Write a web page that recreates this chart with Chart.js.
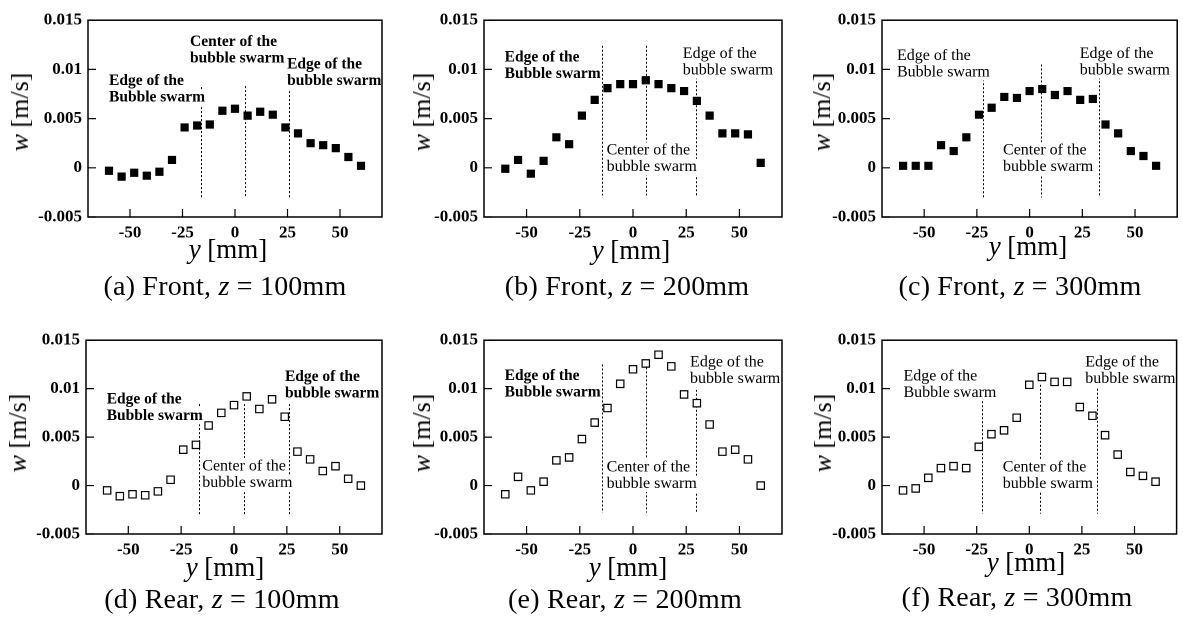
<!DOCTYPE html>
<html>
<head>
<meta charset="utf-8">
<script src="https://cdn.jsdelivr.net/npm/chart.js@4.4.0/dist/chart.umd.min.js"></script>
<style>
  html, body { margin:0; padding:0; background:#fff; }
  body { width:1183px; height:621px; position:relative; overflow:hidden; font-family:"Liberation Serif", "DejaVu Serif", serif; color:#000; }
  canvas { position:absolute; }
  .lbl { position:absolute; white-space:nowrap; transform:translate(-50%,-50%); line-height:1; }
  .ytitle { font-size:26px; transform:translate(-50%,-50%) rotate(-90deg); }
  .xtitle { font-size:27px; }
  .cap { font-size:28px; letter-spacing:0.2px; }
</style>
</head>
<body>
<script>
// ---- data ----
const yPositions = [-60,-54,-48,-42,-36,-30,-24,-18,-12,-6,0,6,12,18,24,30,36,42,48,54,60];
const frontZ100 = [-0.0003,-0.0009,-0.0005,-0.0008,-0.0004,0.0008,0.0041,0.0043,0.0044,0.0058,0.0060,0.0053,0.0057,0.0054,0.0041,0.0035,0.0025,0.0023,0.0020,0.0011,0.0002];
const frontZ200 = [-0.0001,0.0008,-0.0006,0.0007,0.0031,0.0024,0.0053,0.0069,0.0081,0.0085,0.0085,0.0089,0.0085,0.0081,0.0078,0.0068,0.0053,0.0035,0.0035,0.0034,0.0005];
const frontZ300 = [0.0002,0.0002,0.0002,0.0023,0.0017,0.0031,0.0054,0.0061,0.0072,0.0071,0.0078,0.0080,0.0074,0.0078,0.0069,0.0070,0.0044,0.0035,0.0017,0.0012,0.0002];
const rearZ100  = [-0.0005,-0.0011,-0.0009,-0.0010,-0.0006,0.0006,0.0037,0.0042,0.0062,0.0075,0.0083,0.0092,0.0079,0.0089,0.0071,0.0035,0.0027,0.0015,0.0020,0.0007,0.0000];
const rearZ200  = [-0.0009,0.0009,-0.0005,0.0004,0.0026,0.0029,0.0048,0.0065,0.0080,0.0105,0.0120,0.0126,0.0135,0.0123,0.0094,0.0085,0.0063,0.0035,0.0037,0.0027,0.0000];
const rearZ300  = [-0.0005,-0.0003,0.0008,0.0018,0.0020,0.0018,0.0040,0.0053,0.0057,0.0070,0.0104,0.0112,0.0107,0.0107,0.0081,0.0072,0.0052,0.0032,0.0014,0.0010,0.0004];

const xTicks = [-50,-25,0,25,50];
const xTickLabels = ['-50','-25','0','25','50'];
const yTicks = [-0.005,0,0.005,0.01,0.015];
const yTickLabels = ['-0.005','0','0.005','0.01','0.015'];

const captions = ['(a) Front, <i>z</i> = 100mm','(b) Front, <i>z</i> = 200mm','(c) Front, <i>z</i> = 300mm',
                  '(d) Rear, <i>z</i> = 100mm','(e) Rear, <i>z</i> = 200mm','(f) Rear, <i>z</i> = 300mm'];

// ---- panel layout / annotation configuration ----
const panels = [
  { data: frontZ100, filled: true,  area: [88,16,382,217],
    ytitle:[20,112], xtitle:[228,249], cap:[225,286],
    lines: [[-16.3,0.0082,-0.003],[4.6,0.0083,-0.003],[25.6,0.0082,-0.003]],
    texts: [{x:-60,y:0.0088,l:['Edge of the','Bubble swarm'],b:true},
            {x:-21.4,y:0.0128,l:['Center of the','bubble swarm'],b:true},
            {x:24.8,y:0.0105,l:['Edge of the','bubble swarm'],b:true}] },
  { data: frontZ200, filled: true,  area: [484,16,782,217],
    ytitle:[422,112], xtitle:[631,250], cap:[627,286],
    lines: [[-14.7,0.0124,-0.0028],[6.0,0.0124,-0.0028],[29.8,0.0092,-0.0028]],
    texts: [{x:-60.3,y:0.0112,l:['Edge of the','Bubble swarm'],b:true},
            {x:-12.4,y:0.00177,l:['Center of the','bubble swarm'],b:false},
            {x:23.4,y:0.0116,l:['Edge of the','bubble swarm'],b:false}] },
  { data: frontZ300, filled: true,  area: [882,16,1179,217],
    ytitle:[822,112], xtitle:[1028,246], cap:[1020,286],
    lines: [[-22.2,0.0090,-0.003],[5.4,0.0105,-0.003],[32.7,0.0092,-0.003]],
    texts: [{x:-62.9,y:0.0114,l:['Edge of the','Bubble swarm'],b:false},
            {x:-12.6,y:0.0018,l:['Center of the','bubble swarm'],b:false},
            {x:23.8,y:0.0116,l:['Edge of the','bubble swarm'],b:false}] },
  { data: rearZ100, filled: false, area: [86,336,382,534],
    ytitle:[18,433], xtitle:[225,567], cap:[222,599],
    lines: [[-16.4,0.0084,-0.003],[4.6,0.0084,-0.003],[25.9,0.0084,-0.003]],
    texts: [{x:-60.2,y:0.0089,l:['Edge of the','Bubble swarm'],b:true},
            {x:-15.0,y:0.0020,l:['Center of the','bubble swarm'],b:false},
            {x:24.1,y:0.0112,l:['Edge of the','bubble swarm'],b:true}] },
  { data: rearZ200, filled: false, area: [484,336,782,534],
    ytitle:[422,433], xtitle:[628,567], cap:[625,599],
    lines: [[-14.7,0.0125,-0.0028],[6.0,0.0122,-0.0028],[29.8,0.0103,-0.0028]],
    texts: [{x:-60.3,y:0.0113,l:['Edge of the','Bubble swarm'],b:true},
            {x:-12.4,y:0.0019,l:['Center of the','bubble swarm'],b:false},
            {x:26.8,y:0.0127,l:['Edge of the','bubble swarm'],b:false}] },
  { data: rearZ300, filled: false, area: [882,336,1179,534],
    ytitle:[823,433], xtitle:[1026,562], cap:[1017,597],
    lines: [[-22.5,0.0087,-0.0029],[5.2,0.0104,-0.0029],[32.4,0.0104,-0.0029]],
    texts: [{x:-59.8,y:0.0113,l:['Edge of the','Bubble swarm'],b:false},
            {x:-12.6,y:0.0019,l:['Center of the','bubble swarm'],b:false},
            {x:26.6,y:0.0127,l:['Edge of the','bubble swarm'],b:false}] }
];

const FONT = '"Liberation Serif", "DejaVu Serif", serif';
Chart.defaults.font.family = FONT;
Chart.defaults.color = '#000';

const decor = {
  id: 'decor',
  beforeDatasetsDraw(chart, args, opts) {
    const ctx = chart.ctx, xs = chart.scales.x, ys = chart.scales.y;
    ctx.save();
    // dotted marker lines
    ctx.strokeStyle = '#000'; ctx.lineWidth = 1; ctx.setLineDash([2,2]);
    opts.lines.forEach(([x, y1, y2]) => {
      const px = Math.round(xs.getPixelForValue(x)) + 0.5;
      ctx.beginPath();
      ctx.moveTo(px, ys.getPixelForValue(y1));
      ctx.lineTo(px, ys.getPixelForValue(y2));
      ctx.stroke();
    });
    ctx.setLineDash([]);
    // annotation text with white background
    ctx.textBaseline = 'middle'; ctx.textAlign = 'left';
    opts.texts.forEach(t => {
      ctx.font = (t.b ? 'bold 15.5px ' : '16px ') + FONT;
      const x0 = xs.getPixelForValue(t.x), y0 = ys.getPixelForValue(t.y);
      t.l.forEach((line, i) => {
        const w = ctx.measureText(line).width;
        const yy = y0 + i * 16.5;
        ctx.fillStyle = '#fff';
        ctx.fillRect(x0 - 1, yy - 8, w + 2, 16.5);
        ctx.fillStyle = '#000';
        ctx.fillText(line, x0, yy);
      });
    });
    ctx.restore();
  },
  afterDraw(chart) {
    const ctx = chart.ctx, a = chart.chartArea, xs = chart.scales.x, ys = chart.scales.y;
    ctx.save();
    ctx.strokeStyle = '#000'; ctx.lineWidth = 1.5;
    ctx.strokeRect(a.left, a.top, a.right - a.left, a.bottom - a.top);
    ctx.lineWidth = 1.2;
    ctx.beginPath();
    xTicks.forEach(v => { const px = xs.getPixelForValue(v); ctx.moveTo(px, a.bottom); ctx.lineTo(px, a.bottom - 8); });
    yTicks.forEach(v => { const py = ys.getPixelForValue(v); ctx.moveTo(a.left, py); ctx.lineTo(a.left + 8, py); });
    ctx.stroke();
    ctx.restore();
  }
};

const YW = 60, XH = 30, PT = 12;
panels.forEach((p, idx) => {
  const [L, T, R, B] = p.area;
  const PR = Math.min(12, 1183 - R);
  const cv = document.createElement('canvas');
  const cw = (R - L) + YW + PR, ch = (B - T) + PT + XH;
  cv.width = cw; cv.height = ch;
  cv.style.left = (L - YW) + 'px'; cv.style.top = (T - PT) + 'px';
  cv.style.width = cw + 'px'; cv.style.height = ch + 'px';
  document.body.appendChild(cv);

  new Chart(cv, {
    type: 'scatter',
    data: { datasets: [{
      data: yPositions.map((x, i) => ({ x, y: p.data[i] })),
      pointStyle: 'rect',
      pointRadius: p.filled ? 5.8 : 5.2,
      pointBorderWidth: p.filled ? 0 : 1.2,
      pointBackgroundColor: p.filled ? '#000' : '#fff',
      pointBorderColor: '#000',
      showLine: false
    }]},
    options: {
      responsive: false, animation: false, devicePixelRatio: 2,
      layout: { padding: { top: PT, right: PR, left: 0, bottom: 0 } },
      plugins: { legend: { display: false }, tooltip: { enabled: false }, decor: { lines: p.lines, texts: p.texts } },
      scales: {
        x: { type: 'linear', min: -70, max: 70,
             grid: { display: false, drawTicks: false }, border: { display: false },
             afterBuildTicks: s => { s.ticks = xTicks.map(v => ({ value: v })); },
             afterFit: s => { s.height = XH; },
             ticks: { padding: 6, color: '#000', font: { size: 17, weight: 'bold', family: FONT },
                      maxRotation: 0, autoSkip: false,
                      callback: (v) => xTickLabels[xTicks.indexOf(v)] } },
        y: { type: 'linear', min: -0.005, max: 0.015,
             grid: { display: false, drawTicks: false }, border: { display: false },
             afterBuildTicks: s => { s.ticks = yTicks.map(v => ({ value: v })); },
             afterFit: s => { s.width = YW; },
             ticks: { padding: 6, color: '#000', font: { size: 17, weight: 'bold', family: FONT },
                      autoSkip: false,
                      callback: (v) => yTickLabels[yTicks.indexOf(v)] } }
      }
    },
    plugins: [decor]
  });

  const yt = document.createElement('div');
  yt.className = 'lbl ytitle';
  yt.innerHTML = '<i>w</i> [m/s]';
  yt.style.left = p.ytitle[0] + 'px'; yt.style.top = p.ytitle[1] + 'px';
  document.body.appendChild(yt);

  const xt = document.createElement('div');
  xt.className = 'lbl xtitle';
  xt.innerHTML = '<i>y</i> [mm]';
  xt.style.left = p.xtitle[0] + 'px'; xt.style.top = p.xtitle[1] + 'px';
  document.body.appendChild(xt);

  const cp = document.createElement('div');
  cp.className = 'lbl cap';
  cp.innerHTML = captions[idx];
  cp.style.left = p.cap[0] + 'px'; cp.style.top = p.cap[1] + 'px';
  document.body.appendChild(cp);
});
</script>
</body>
</html>
